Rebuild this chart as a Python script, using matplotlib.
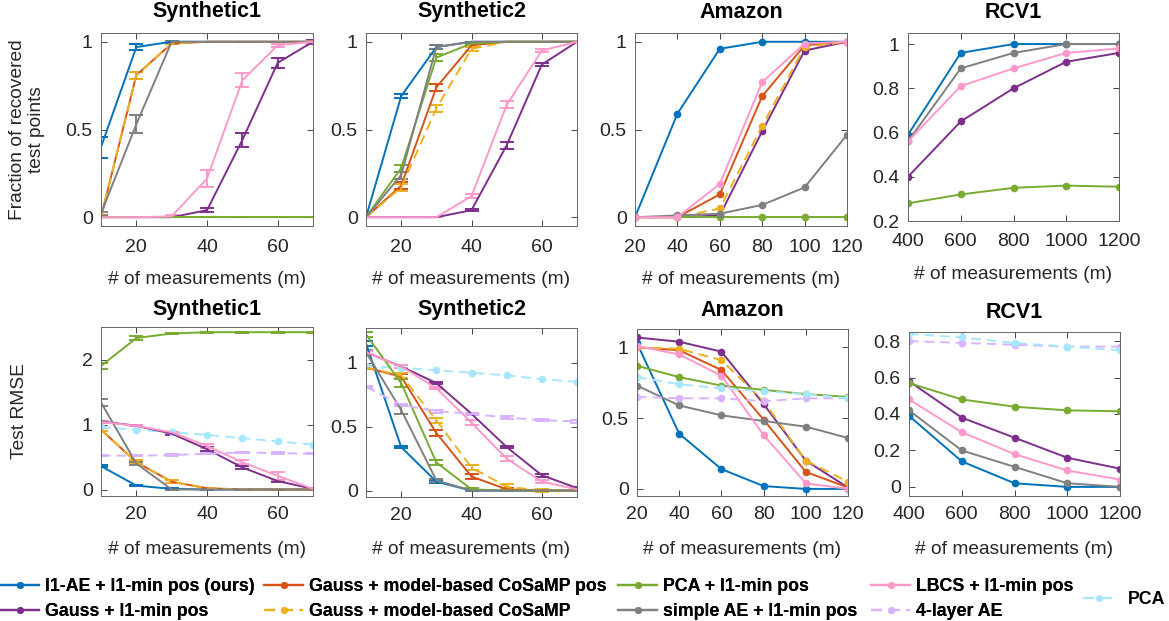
import numpy as np
import matplotlib
matplotlib.use('Agg')
import matplotlib.pyplot as plt
from matplotlib.lines import Line2D

plt.rcParams['font.family'] = ['Liberation Sans', 'DejaVu Sans']

# method names and colours (legend order)
methods = ['l1ae', 'gauss', 'cosamp_pos', 'cosamp', 'pca_l1', 'simple_ae', 'lbcs', 'ae4', 'pca']
labels = ['l1-AE + l1-min pos (ours)', 'Gauss + l1-min pos', 'Gauss + model-based CoSaMP pos',
          'Gauss + model-based CoSaMP', 'PCA + l1-min pos', 'simple AE + l1-min pos',
          'LBCS + l1-min pos', '4-layer AE', 'PCA']
colors = {'l1ae': '#0072BD', 'gauss': '#7E2F8E', 'cosamp_pos': '#D95319', 'cosamp': '#EDB120',
          'pca_l1': '#77AC30', 'simple_ae': '#808080', 'lbcs': '#FF99CC', 'ae4': '#D9B3FF',
          'pca': '#A6E6FF'}
dashed = {'cosamp', 'ae4', 'pca'}

m_syn = [10, 20, 30, 40, 50, 60, 70]
m_amz = [20, 40, 60, 80, 100, 120]
m_rcv = [400, 600, 800, 1000, 1200]

# ---- fraction of recovered test points ----
rec_syn1 = {
    'l1ae':      [0.40, 0.97, 1.00, 1.00, 1.00, 1.00, 1.00],
    'gauss':     [0.00, 0.00, 0.00, 0.04, 0.44, 0.88, 1.00],
    'cosamp_pos':[0.00, 0.81, 0.99, 1.00, 1.00, 1.00, 1.00],
    'cosamp':    [0.00, 0.81, 0.99, 1.00, 1.00, 1.00, 1.00],
    'pca_l1':    [0.00, 0.00, 0.00, 0.00, 0.00, 0.00, 0.00],
    'simple_ae': [0.02, 0.53, 1.00, 1.00, 1.00, 1.00, 1.00],
    'lbcs':      [0.00, 0.00, 0.005, 0.22, 0.78, 0.98, 1.00],
}
rec_syn1_err = {
    'l1ae':      [0.06, 0.015, 0.005, 0, 0, 0, 0],
    'gauss':     [0, 0, 0, 0.01, 0.04, 0.03, 0.01],
    'cosamp_pos':[0, 0.02, 0.005, 0, 0, 0, 0],
    'cosamp':    [0, 0.02, 0.005, 0, 0, 0, 0],
    'pca_l1':    [0, 0, 0, 0, 0, 0, 0],
    'simple_ae': [0.01, 0.05, 0.005, 0, 0, 0, 0],
    'lbcs':      [0, 0, 0.005, 0.05, 0.04, 0.01, 0.005],
}
rec_syn2 = {
    'l1ae':      [0.00, 0.69, 0.97, 1.00, 1.00, 1.00, 1.00],
    'gauss':     [0.00, 0.00, 0.00, 0.04, 0.41, 0.87, 1.00],
    'cosamp_pos':[0.00, 0.18, 0.74, 0.98, 1.00, 1.00, 1.00],
    'cosamp':    [0.00, 0.17, 0.62, 0.96, 1.00, 1.00, 1.00],
    'pca_l1':    [0.00, 0.28, 0.91, 0.99, 1.00, 1.00, 1.00],
    'simple_ae': [0.00, 0.24, 0.97, 1.00, 1.00, 1.00, 1.00],
    'lbcs':      [0.00, 0.00, 0.00, 0.12, 0.64, 0.95, 1.00],
}
rec_syn2_err = {
    'l1ae':      [0, 0.01, 0.01, 0, 0, 0, 0],
    'gauss':     [0, 0, 0, 0.005, 0.02, 0.01, 0],
    'cosamp_pos':[0, 0.02, 0.02, 0.01, 0, 0, 0],
    'cosamp':    [0, 0.02, 0.02, 0.01, 0, 0, 0],
    'pca_l1':    [0, 0.02, 0.02, 0.005, 0, 0, 0],
    'simple_ae': [0, 0.02, 0.01, 0, 0, 0, 0],
    'lbcs':      [0, 0, 0, 0.01, 0.02, 0.01, 0],
}
rec_amz = {
    'l1ae':      [0.00, 0.59, 0.96, 1.00, 1.00, 1.00],
    'gauss':     [0.00, 0.00, 0.01, 0.49, 0.95, 1.00],
    'cosamp_pos':[0.00, 0.00, 0.13, 0.69, 0.98, 1.00],
    'cosamp':    [0.00, 0.00, 0.05, 0.52, 0.97, 1.00],
    'pca_l1':    [0.00, 0.00, 0.00, 0.00, 0.00, 0.00],
    'simple_ae': [0.00, 0.01, 0.02, 0.07, 0.17, 0.47],
    'lbcs':      [0.00, 0.00, 0.19, 0.77, 0.99, 1.00],
}
rec_rcv = {
    'l1ae':      [0.59, 0.96, 1.00, 1.00, 1.00],
    'gauss':     [0.40, 0.65, 0.80, 0.92, 0.96],
    'pca_l1':    [0.28, 0.32, 0.35, 0.36, 0.355],
    'simple_ae': [0.56, 0.89, 0.96, 1.00, 1.00],
    'lbcs':      [0.56, 0.81, 0.89, 0.96, 0.98],
}

# ---- test RMSE ----
rmse_syn1 = {
    'l1ae':      [0.36, 0.06, 0.01, 0.00, 0.00, 0.00, 0.00],
    'gauss':     [1.05, 0.98, 0.86, 0.62, 0.34, 0.13, 0.01],
    'cosamp_pos':[0.92, 0.42, 0.12, 0.02, 0.00, 0.00, 0.00],
    'cosamp':    [0.92, 0.42, 0.12, 0.02, 0.00, 0.00, 0.00],
    'pca_l1':    [1.90, 2.33, 2.40, 2.42, 2.42, 2.42, 2.42],
    'simple_ae': [1.34, 0.40, 0.00, 0.00, 0.00, 0.00, 0.00],
    'lbcs':      [1.04, 0.98, 0.88, 0.67, 0.42, 0.21, 0.01],
    'ae4':       [0.52, 0.52, 0.53, 0.55, 0.57, 0.56, 0.55],
    'pca':       [0.96, 0.92, 0.88, 0.84, 0.79, 0.74, 0.69],
}
rmse_syn1_err = {
    'l1ae':      [0.01, 0.01, 0.01, 0, 0, 0, 0],
    'gauss':     [0.01, 0.01, 0.02, 0.03, 0.02, 0.02, 0.01],
    'cosamp_pos':[0.02, 0.03, 0.02, 0.01, 0, 0, 0],
    'cosamp':    [0.02, 0.03, 0.02, 0.01, 0, 0, 0],
    'pca_l1':    [0.04, 0.03, 0.01, 0.01, 0.01, 0.01, 0.01],
    'simple_ae': [0.06, 0.02, 0.01, 0, 0, 0, 0],
    'lbcs':      [0.01, 0.01, 0.01, 0.03, 0.03, 0.06, 0.02],
    'ae4':       [0.01, 0.01, 0.01, 0.01, 0.01, 0.01, 0.01],
}
rmse_syn2 = {
    'l1ae':      [1.15, 0.34, 0.07, 0.00, 0.00, 0.00, 0.00],
    'gauss':     [1.08, 0.97, 0.84, 0.60, 0.34, 0.12, 0.02],
    'cosamp_pos':[0.96, 0.89, 0.45, 0.11, 0.01, 0.00, 0.00],
    'cosamp':    [0.96, 0.90, 0.55, 0.18, 0.03, 0.00, 0.00],
    'pca_l1':    [1.22, 0.84, 0.22, 0.01, 0.00, 0.00, 0.00],
    'simple_ae': [1.08, 0.63, 0.08, 0.00, 0.00, 0.00, 0.00],
    'lbcs':      [1.08, 0.97, 0.80, 0.53, 0.25, 0.07, 0.01],
    'ae4':       [0.81, 0.67, 0.62, 0.60, 0.57, 0.55, 0.54],
    'pca':       [0.97, 0.96, 0.94, 0.92, 0.90, 0.87, 0.85],
}
rmse_syn2_err = {
    'l1ae':      [0.02, 0.01, 0.01, 0, 0, 0, 0],
    'gauss':     [0.01, 0.01, 0.01, 0.01, 0.01, 0.01, 0.01],
    'cosamp_pos':[0.01, 0.02, 0.02, 0.02, 0.01, 0, 0],
    'cosamp':    [0.01, 0.02, 0.02, 0.02, 0.02, 0.01, 0],
    'pca_l1':    [0.02, 0.03, 0.02, 0.01, 0, 0, 0],
    'simple_ae': [0.02, 0.03, 0.01, 0, 0, 0, 0],
    'lbcs':      [0.01, 0.01, 0.01, 0.02, 0.02, 0.01, 0.01],
    'ae4':       [0.01, 0.01, 0.01, 0.01, 0.01, 0.01, 0.01],
}
rmse_amz = {
    'l1ae':      [1.03, 0.39, 0.14, 0.02, 0.00, 0.00],
    'gauss':     [1.07, 1.04, 0.97, 0.60, 0.20, 0.01],
    'cosamp_pos':[1.00, 0.98, 0.84, 0.49, 0.12, 0.01],
    'cosamp':    [1.00, 0.99, 0.91, 0.62, 0.20, 0.05],
    'pca_l1':    [0.87, 0.79, 0.73, 0.70, 0.67, 0.65],
    'simple_ae': [0.73, 0.59, 0.52, 0.48, 0.44, 0.36],
    'lbcs':      [1.01, 0.95, 0.80, 0.38, 0.04, 0.00],
    'ae4':       [0.65, 0.64, 0.64, 0.62, 0.64, 0.64],
    'pca':       [0.79, 0.74, 0.71, 0.69, 0.67, 0.64],
}
rmse_rcv = {
    'l1ae':      [0.39, 0.14, 0.02, 0.00, 0.00],
    'gauss':     [0.58, 0.38, 0.27, 0.16, 0.10],
    'pca_l1':    [0.57, 0.48, 0.44, 0.42, 0.415],
    'simple_ae': [0.42, 0.20, 0.11, 0.02, 0.00],
    'lbcs':      [0.48, 0.30, 0.18, 0.09, 0.04],
    'ae4':       [0.80, 0.79, 0.78, 0.77, 0.77],
    'pca':       [0.84, 0.82, 0.79, 0.77, 0.75],
}

W, H = 1169, 621
fig = plt.figure(figsize=(W / 100, H / 100), dpi=100)
TXT = '#262626'


def make_ax(left, right, top, bottom, xpad):
    ax = fig.add_axes([left / W, 1 - bottom / H, (right - left) / W, (bottom - top) / H])
    ax.tick_params(direction='in', top=True, right=True, labelsize=14,
                   colors=TXT, length=4, width=0.6)
    ax.tick_params(axis='x', pad=xpad)
    ax.tick_params(axis='y', pad=6)
    for s in ax.spines.values():
        s.set_color('#666666')
        s.set_linewidth(0.7)
    return ax


def draw(ax, x, data, err=None):
    for k in methods:
        if k not in data:
            continue
        ls = (0, (5, 3)) if k in dashed else '-'
        c = colors[k]
        if err is not None and k in err:
            ax.errorbar(x, data[k], yerr=err[k], color=c, ls=ls, lw=1.4,
                        capsize=5, capthick=1.4, elinewidth=1.4)
        else:
            ax.plot(x, data[k], color=c, ls=ls, lw=1.4, marker='o', ms=4.5)


# left, right, top, bottom (px), title centre y (px), xlabel top y (px), tick pad
panels = [
    (101, 313, 33, 226, 12, 271, 9, m_syn, rec_syn1, rec_syn1_err, 'Synthetic1', (-0.05, 1.05), [0, 0.5, 1], (10, 70), [20, 40, 60]),
    (366, 577, 33, 226, 12, 271, 9, m_syn, rec_syn2, rec_syn2_err, 'Synthetic2', (-0.05, 1.05), [0, 0.5, 1], (10, 70), [20, 40, 60]),
    (635, 847, 33, 226, 12, 271, 9, m_amz, rec_amz, None, 'Amazon', (-0.05, 1.05), [0, 0.5, 1], (20, 120), m_amz),
    (908, 1119, 33, 221, 12, 266, 9, m_rcv, rec_rcv, None, 'RCV1', (0.2, 1.05), [0.2, 0.4, 0.6, 0.8, 1], (400, 1200), m_rcv),
    (101, 313, 327, 496, 310, 541, 7, m_syn, rmse_syn1, rmse_syn1_err, 'Synthetic1', (-0.1, 2.5), [0, 1, 2], (10, 70), [20, 40, 60]),
    (366, 577, 328, 497, 310, 541, 7, m_syn, rmse_syn2, rmse_syn2_err, 'Synthetic2', (-0.05, 1.27), [0, 0.5, 1], (10, 70), [20, 40, 60]),
    (637, 848, 329, 496, 310, 541, 7, m_amz, rmse_amz, None, 'Amazon', (-0.05, 1.13), [0, 0.5, 1], (20, 120), m_amz),
    (909, 1120, 332, 496, 313, 541, 7, m_rcv, rmse_rcv, None, 'RCV1', (-0.05, 0.85), [0, 0.2, 0.4, 0.6, 0.8], (400, 1200), m_rcv),
]

axes = []
for (l, r, t, b, ty, xly, xpad, x, data, err, title, ylim, yt, xlim, xt) in panels:
    ax = make_ax(l, r, t, b, xpad)
    draw(ax, x, data, err)
    ax.set_xlim(*xlim)
    ax.set_ylim(*ylim)
    ax.set_xticks(xt)
    ax.set_yticks(yt)
    ax.set_yticklabels(['%g' % v for v in yt])
    h = b - t
    ax.text(0.5, 1 + (t - ty) / h, title, transform=ax.transAxes, ha='center',
            va='center', fontsize=15.5, fontweight='bold', color='black')
    ax.set_xlabel('# of measurements (m)', fontsize=13.8, color=TXT, va='top')
    ax.xaxis.set_label_coords(0.5, -(xly - b) / h)
    axes.append(ax)

axes[0].set_ylabel('Fraction of recovered\ntest points', fontsize=13.8, color=TXT, va='center')
axes[0].yaxis.set_label_coords(-(101 - 27) / 212, 0.5)
axes[4].set_ylabel('Test RMSE', fontsize=13.8, color=TXT, va='center')
axes[4].yaxis.set_label_coords(-(101 - 20) / 212, 0.5)

handles = [Line2D([], [], color=colors[k], lw=1.6, marker='o', ms=4,
                  ls=(0, (5, 3)) if k in dashed else '-') for k in methods]
leg_kw = dict(frameon=False, borderpad=0, borderaxespad=0, labelspacing=0.45,
              prop={'weight': 'bold', 'size': 12.8})
# legend columns: (handle start x px, entry indices)
leg_cols = [(0, [0, 1]), (264, [2, 3]), (618, [4, 5]), (871, [6, 7])]
for xpx, idx in leg_cols:
    lg = fig.legend([handles[i] for i in idx], [labels[i] for i in idx], loc='upper left',
                    bbox_to_anchor=(xpx / W, 1 - 578 / H), handlelength=2.2,
                    handletextpad=0.35, **leg_kw)
    fig.add_artist(lg)
fig.legend([handles[8]], [labels[8]], loc='center left', bbox_to_anchor=(1083 / W, 1 - 600 / H),
           handlelength=1.75, handletextpad=0.8, **leg_kw)

fig.savefig('out.png', dpi=100)
